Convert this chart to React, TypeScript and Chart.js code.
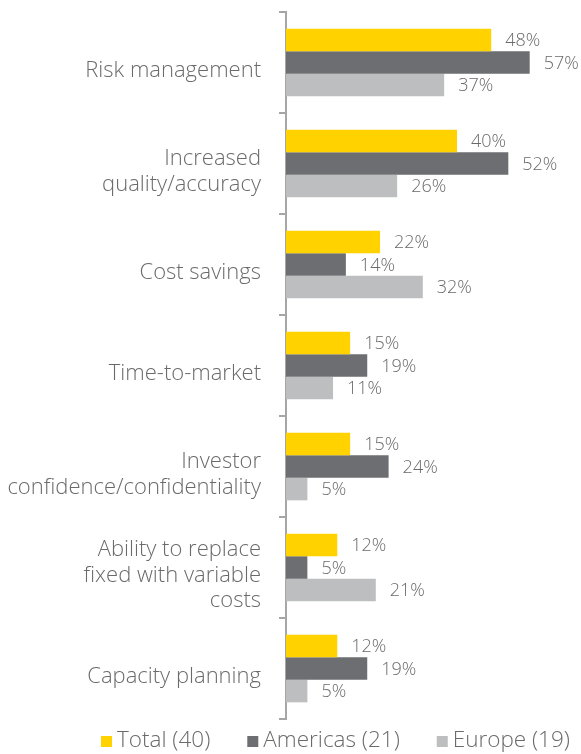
import React, { useEffect, useRef } from "react";
import { Chart, registerables } from "chart.js";

Chart.register(...registerables);

const categories: string[][] = [
  ["Risk management"],
  ["Increased", "quality/accuracy"],
  ["Cost savings"],
  ["Time-to-market"],
  ["Investor", "confidence/confidentiality"],
  ["Ability to replace", "fixed with variable", "costs"],
  ["Capacity planning"],
];

const seriesNames = ["Total (40)", "Americas (21)", "Europe (19)"];
const totalValues = [48, 40, 22, 15, 15, 12, 12];
const americasValues = [57, 52, 14, 19, 24, 5, 19];
const europeValues = [37, 26, 32, 11, 5, 21, 5];
const seriesColors = ["#FFD200", "#6D6E71", "#BCBEC0"];

const FONT = "'Open Sans', 'DejaVu Sans', sans-serif";
const TEXT = "#6a6a6a";

const valueLabels = {
  id: "valueLabels",
  afterDatasetsDraw(chart: any) {
    const ctx = chart.ctx;
    ctx.save();
    ctx.font = `300 18px ${FONT}`;
    ctx.fillStyle = TEXT;
    ctx.textAlign = "left";
    ctx.textBaseline = "middle";
    chart.data.datasets.forEach((ds: any, i: number) => {
      const meta = chart.getDatasetMeta(i);
      meta.data.forEach((bar: any, j: number) => {
        ctx.fillText(ds.data[j] + "%", bar.x + 14, bar.y + 1);
      });
    });
    ctx.restore();
  },
};

const customLegend = {
  id: "customLegend",
  afterDraw(chart: any) {
    const ctx = chart.ctx;
    ctx.save();
    ctx.font = `300 22.5px ${FONT}`;
    ctx.textBaseline = "middle";
    ctx.textAlign = "left";
    let x = 101;
    const y = 741;
    chart.data.datasets.forEach((ds: any) => {
      ctx.fillStyle = ds.backgroundColor;
      ctx.fillRect(x, y - 5, 11, 11);
      x += 16;
      ctx.fillStyle = TEXT;
      ctx.fillText(ds.label, x, y);
      x += ctx.measureText(ds.label).width + 37;
    });
    ctx.restore();
  },
};

export default function App() {
  const ref = useRef<HTMLCanvasElement | null>(null);
  useEffect(() => {
    if (!ref.current) return;
    const chart = new Chart(ref.current, {
      type: "bar",
      data: {
        labels: categories,
        datasets: [
          { label: seriesNames[0], data: totalValues, backgroundColor: seriesColors[0] },
          { label: seriesNames[1], data: americasValues, backgroundColor: seriesColors[1] },
          { label: seriesNames[2], data: europeValues, backgroundColor: seriesColors[2] },
        ],
      },
      options: {
        indexAxis: "y",
        animation: false,
        responsive: false,
        maintainAspectRatio: false,
        layout: { padding: { top: 12, bottom: 35, left: 0, right: 0 } },
        datasets: { bar: { categoryPercentage: 0.67, barPercentage: 1 } },
        plugins: { legend: { display: false }, tooltip: { enabled: false } },
        scales: {
          x: { display: false, min: 0, max: 69 },
          y: {
            afterFit(scale: any) {
              scale.width = 286;
              scale.paddingTop = 0;
              scale.paddingBottom = 0;
            },
            border: { display: true, color: "#a6a6a6", width: 2 },
            grid: {
              drawOnChartArea: false,
              drawTicks: true,
              tickLength: 7,
              color: "#a6a6a6",
              lineWidth: 2,
              offset: true,
            },
            ticks: {
              color: TEXT,
              font: { family: FONT, size: 22, weight: "300", lineHeight: 1.16 },
              padding: 18,
              labelOffset: 8,
            },
          },
        },
      },
      plugins: [valueLabels, customLegend],
    });
    return () => chart.destroy();
  }, []);
  return (
    <div style={{ position: "fixed", left: 0, top: 0, width: 581, height: 754, background: "#fff" }}>
      <canvas ref={ref} width={581} height={754} />
    </div>
  );
}
